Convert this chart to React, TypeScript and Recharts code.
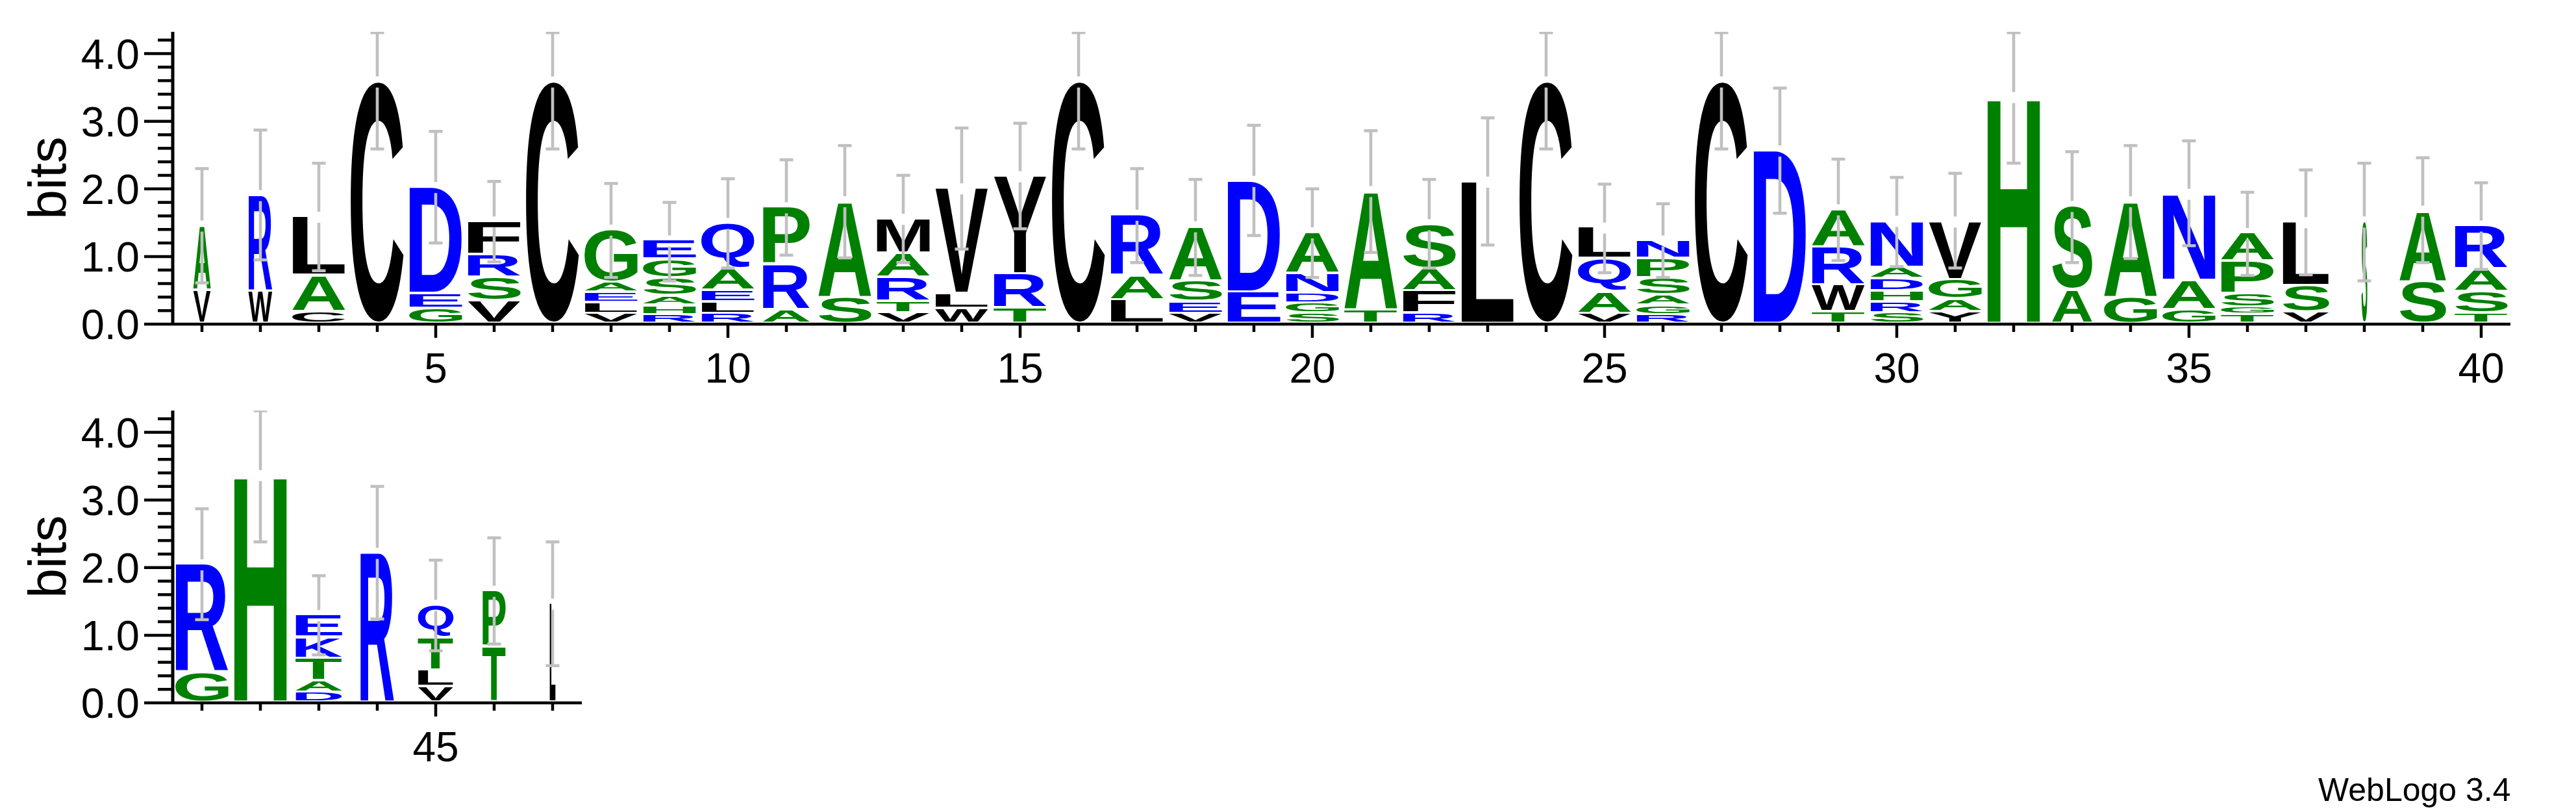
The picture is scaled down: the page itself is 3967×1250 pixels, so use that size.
import React from "react";
import { ComposedChart, Bar, XAxis, YAxis } from "recharts";

// ---------- data ----------
const positions = [
  1, 2, 3, 4, 5, 6, 7, 8, 9, 10, 11, 12, 13, 14, 15, 16, 17, 18, 19, 20,
  21, 22, 23, 24, 25, 26, 27, 28, 29, 30, 31, 32, 33, 34, 35, 36, 37, 38, 39, 40,
  41, 42, 43, 44, 45, 46, 47,
];

// letters of each stack, bottom -> top
const stackLetters = [
  "VA", "WR", "CAL", "C", "GED", "VSRF", "C", "VLEAG", "RHASGE", "RLEAQ",
  "ARP", "SA", "VTRAM", "WLV", "TRY", "C", "LAR", "VESA", "ED", "SGDNA",
  "TA", "RFAS", "L", "C", "VAQL", "RGASPN", "C", "D", "TWRA", "SRHDAN",
  "YAGV", "H", "AS", "GA", "GAN", "TGSPA", "VSL", "S", "SA", "TSAR",
  "GR", "H", "DATKE", "R", "VLTQ", "TP", "L",
];

// heights (bits) of each letter, bottom -> top
const stackHeights = [
  [0.49, 0.96], [0.48, 1.42], [0.17, 0.54, 0.87], [3.58], [0.22, 0.22, 1.58],
  [0.33, 0.35, 0.33, 0.5], [3.58], [0.15, 0.16, 0.15, 0.15, 0.78],
  [0.13, 0.14, 0.14, 0.26, 0.28, 0.28], [0.15, 0.17, 0.17, 0.32, 0.68],
  [0.2, 0.66, 0.86], [0.39, 1.42], [0.16, 0.17, 0.35, 0.36, 0.51], [0.22, 0.22, 1.56],
  [0.23, 0.5, 1.45], [3.58], [0.35, 0.36, 0.9], [0.15, 0.17, 0.31, 0.81], [0.46, 1.65],
  [0.15, 0.15, 0.15, 0.29, 0.61], [0.2, 1.76], [0.15, 0.33, 0.33, 0.66], [2.1], [3.58],
  [0.15, 0.32, 0.49, 0.46], [0.13, 0.14, 0.15, 0.25, 0.29, 0.27], [3.58], [2.56],
  [0.17, 0.4, 0.56, 0.56], [0.16, 0.16, 0.16, 0.18, 0.17, 0.69], [0.17, 0.19, 0.29, 0.86],
  [3.35], [0.5, 1.24], [0.39, 1.42], [0.2, 0.44, 1.28], [0.14, 0.1, 0.2, 0.48, 0.42],
  [0.17, 0.39, 0.94], [1.51], [0.62, 1.05], [0.15, 0.32, 0.34, 0.64],
  [0.44, 1.6], [3.36], [0.15, 0.17, 0.33, 0.31, 0.33], [2.21], [0.23, 0.24, 0.48, 0.49],
  [0.82, 0.83], [1.46],
];

// relative stack widths (fraction of full column width)
const stackWidths = [
  0.33, 0.45, 1, 1, 1, 1, 1, 1, 1, 1,
  0.89, 1, 1, 1, 1, 1, 1, 1, 1, 1,
  1, 1, 1, 1, 1, 1, 1, 1, 1, 1,
  1, 1, 0.76, 1, 1, 1, 0.88, 0.11, 0.88, 1,
  1, 1, 0.88, 0.64, 0.67, 0.44, 0.11,
];

const errLow = [
  0.61, 0.95, 0.79, 2.59, 1.2, 0.92, 2.59, 0.69, 0.64, 0.83,
  1.02, 0.98, 0.91, 1.11, 1.41, 2.59, 0.91, 0.72, 1.31, 0.69,
  1.06, 0.83, 1.17, 2.59, 0.76, 0.69, 2.59, 1.64, 0.94, 0.85,
  0.83, 2.38, 0.91, 0.97, 1.16, 0.72, 0.73, 0.64, 0.91, 0.81,
  1.23, 2.38, 0.71, 1.24, 0.77, 0.87, 0.55,
];

const errHigh = [
  2.3, 2.87, 2.38, 4.31, 2.85, 2.11, 4.31, 2.08, 1.8, 2.15,
  2.43, 2.64, 2.2, 2.9, 2.97, 4.31, 2.3, 2.14, 2.94, 2.0,
  2.86, 2.14, 3.05, 4.31, 2.07, 1.78, 4.31, 3.49, 2.44, 2.17,
  2.23, 4.31, 2.55, 2.64, 2.71, 1.95, 2.28, 2.38, 2.46, 2.09,
  2.87, 4.32, 1.88, 3.2, 2.11, 2.44, 2.38,
];

const yTicks = [0, 0.2, 0.4, 0.6, 0.8, 1, 1.2, 1.4, 1.6, 1.8, 2, 2.2, 2.4, 2.6, 2.8, 3, 3.2, 3.4, 3.6, 3.8, 4, 4.2];
const MAX_BITS = 4.3219;

// ---------- styling ----------
const FONT = "Liberation Sans";
const BLUE_SET = "RKDENQ";
const GREEN_SET = "SGHTAP";
const colorOf = (ch: string) =>
  BLUE_SET.includes(ch) ? "#0000ff" : GREEN_SET.includes(ch) ? "#008000" : "#000000";

const LAYERS = [0, 1, 2, 3, 4, 5];

// glyph ink boxes, measured with canvas
const metricsCache: Record<string, { l: number; r: number; a: number; d: number }> = {};
function glyphBox(ch: string) {
  if (metricsCache[ch]) return metricsCache[ch];
  let m = { l: -5, r: 70, a: 72, d: 0 };
  try {
    const ctx = document.createElement("canvas").getContext("2d");
    if (ctx) {
      ctx.font = `bold 100px "${FONT}"`;
      const t = ctx.measureText(ch);
      if (t.actualBoundingBoxRight + t.actualBoundingBoxLeft > 1) {
        m = {
          l: t.actualBoundingBoxLeft,
          r: t.actualBoundingBoxRight,
          a: t.actualBoundingBoxAscent,
          d: t.actualBoundingBoxDescent,
        };
      }
    }
  } catch (e) {
    /* keep default */
  }
  metricsCache[ch] = m;
  return m;
}

function buildRows(start: number, end: number) {
  const rows: any[] = [];
  for (let i = start; i < end; i++) {
    const row: any = {
      pos: positions[i],
      letters: stackLetters[i].split(""),
      frac: stackWidths[i],
      range: [errLow[i], errHigh[i]],
    };
    let total = 0;
    LAYERS.forEach((k) => {
      const v = stackHeights[i][k] ?? 0;
      row[`h${k}`] = v;
      total += v;
    });
    row.total = total;
    rows.push(row);
  }
  return rows;
}

const topRows = buildRows(0, 40);
const bottomRows = buildRows(40, 47);

function makeLetterShape(layer: number) {
  return (props: any) => {
    const { x, y, width, height, payload } = props;
    const ch = payload?.letters?.[layer];
    if (!ch || !(Math.abs(height) > 0.5)) return <g />;
    const top = Math.min(y, y + height);
    const h = Math.abs(height);
    const m = glyphBox(ch);
    const cx = x + width / 2;
    const lw = width * (payload.frac ?? 1);
    const gap = Math.min(3.8, h * 0.3);
    const hBox = h - gap;
    const sx = lw / (m.l + m.r);
    const sy = hBox / (m.a + m.d);
    return (
      <text
        transform={`translate(${cx - lw / 2},${top}) scale(${sx},${sy}) translate(${m.l},${m.a})`}
        fontFamily={FONT}
        fontWeight="bold"
        fontSize={100}
        fill={colorOf(ch)}
      >
        {ch}
      </text>
    );
  };
}

const letterShapes = LAYERS.map((k) => makeLetterShape(k));

const ErrShape = (props: any) => {
  const { x, y, width, height, payload } = props;
  if (!payload || !payload.range) return <g />;
  const [lo, hi] = payload.range;
  const yHi = Math.min(y, y + height);
  const yLo = Math.max(y, y + height);
  const k = (yLo - yHi) / (hi - lo);
  const yTot = yHi + (hi - payload.total) * k;
  const cx = x + width / 2;
  const half = 10.5;
  const g = 8.5;
  const col = "#c0c0c0";
  const sw = 4.6;
  return (
    <g>
      <line x1={cx - half} x2={cx + half} y1={yHi} y2={yHi} stroke={col} strokeWidth={sw} />
      <line x1={cx - half} x2={cx + half} y1={yLo} y2={yLo} stroke={col} strokeWidth={sw} />
      {yTot - g > yHi && <line x1={cx} x2={cx} y1={yHi} y2={yTot - g} stroke={col} strokeWidth={sw} />}
      {yTot + g < yLo && <line x1={cx} x2={cx} y1={yTot + g} y2={yLo} stroke={col} strokeWidth={sw} />}
    </g>
  );
};

const XTick = (p: any) => {
  const { x, y, payload } = p;
  const v = Number(payload.value);
  const major = v % 5 === 0;
  return (
    <g>
      <line x1={x} x2={x} y1={y} y2={y + (major ? 21 : 12)} stroke="#000" strokeWidth={4.5} />
      {major && (
        <text x={x} y={y + 90} textAnchor="middle" fontSize={64} fontFamily={FONT} fill="#000">
          {v}
        </text>
      )}
    </g>
  );
};

const YTick = (p: any) => {
  const { x, y, payload } = p;
  const v = Number(payload.value);
  const major = Math.abs(v - Math.round(v)) < 1e-6;
  return (
    <g>
      <line x1={x - (major ? 44 : 23)} x2={x} y1={y} y2={y} stroke="#000" strokeWidth={4.5} />
      {major && (
        <text x={x - 51} y={y} dy="0.36em" textAnchor="end" fontSize={65} fontFamily={FONT} fill="#000">
          {v.toFixed(1)}
        </text>
      )}
    </g>
  );
};

const BitsLabel = (props: any) => {
  const vb = props?.viewBox || { x: 0, y: 0, width: 266, height: 450 };
  const tx = vb.x + 101;
  const ty = vb.y + vb.height / 2;
  return (
    <text
      x={tx}
      y={ty}
      transform={`rotate(-90 ${tx} ${ty})`}
      textAnchor="middle"
      fontSize={82}
      fontFamily={FONT}
      fill="#000"
    >
      bits
    </text>
  );
};

function LogoPanel(props: {
  rows: any[];
  width: number;
  height: number;
  marginTop: number;
  marginRight: number;
  xAxisHeight: number;
}) {
  const { rows, width, height, marginTop, marginRight, xAxisHeight } = props;
  return (
    <ComposedChart
      width={width}
      height={height}
      data={rows}
      margin={{ top: marginTop, right: marginRight, left: 0, bottom: 0 }}
      barCategoryGap={4}
    >
      <XAxis
        dataKey="pos"
        type="category"
        interval={0}
        tickLine={false}
        tickSize={0}
        tickMargin={0}
        height={xAxisHeight}
        axisLine={{ stroke: "#000", strokeWidth: 4.5 }}
        tick={(p: any) => <XTick {...p} />}
      />
      <XAxis xAxisId="e" dataKey="pos" type="category" hide />
      <YAxis
        type="number"
        domain={[0, MAX_BITS]}
        allowDataOverflow
        ticks={yTicks}
        interval={0}
        width={266}
        tickLine={false}
        tickSize={0}
        tickMargin={0}
        axisLine={{ stroke: "#000", strokeWidth: 5 }}
        tick={(p: any) => <YTick {...p} />}
        label={(p: any) => <BitsLabel {...p} />}
      />
      {LAYERS.map((k) => (
        <Bar
          key={k}
          dataKey={`h${k}`}
          stackId="s"
          isAnimationActive={false}
          shape={letterShapes[k]}
        />
      ))}
      <Bar xAxisId="e" dataKey="range" isAnimationActive={false} shape={ErrShape} />
    </ComposedChart>
  );
}

export default function App() {
  return (
    <div style={{ position: "absolute", left: 0, top: 0, width: 3967, height: 1250, background: "#fff", overflow: "hidden" }}>
      <div style={{ position: "absolute", left: 0, top: 0 }}>
        <LogoPanel rows={topRows} width={3967} height={620} marginTop={49} marginRight={101} xAxisHeight={121} />
      </div>
      <div style={{ position: "absolute", left: 0, top: 620 }}>
        <LogoPanel rows={bottomRows} width={1000} height={630} marginTop={12} marginRight={104} xAxisHeight={168} />
      </div>
      <svg width={3967} height={1250} style={{ position: "absolute", left: 0, top: 0, pointerEvents: "none" }}>
        <text x={3570} y={1233} fontSize={50} fontFamily={FONT} fill="#000">
          WebLogo 3.4
        </text>
      </svg>
    </div>
  );
}
